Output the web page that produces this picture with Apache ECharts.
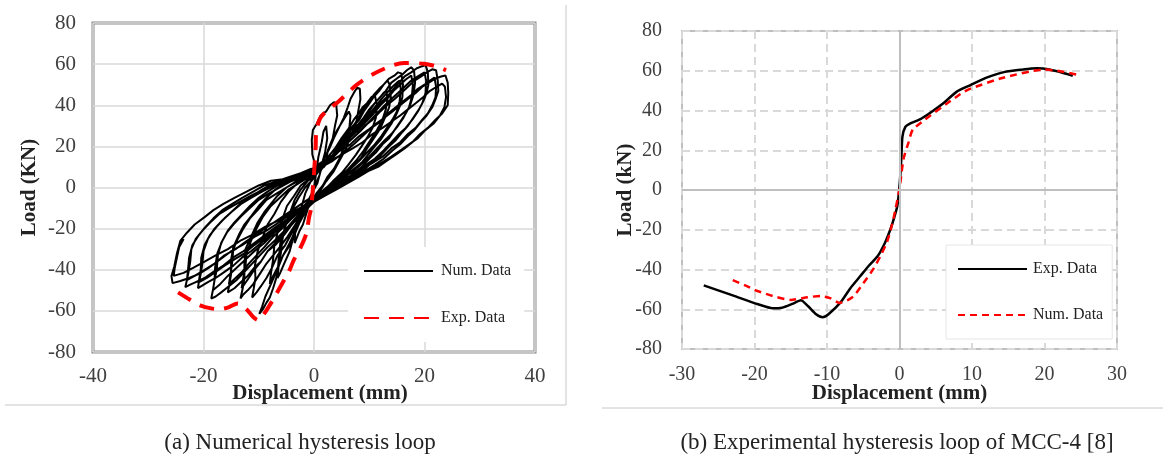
<!DOCTYPE html>
<html><head><meta charset="utf-8">
<script src="https://cdn.jsdelivr.net/npm/echarts@6/dist/echarts.min.js"></script>
<style>
html,body{margin:0;padding:0;background:#fff;width:1163px;height:461px;overflow:hidden;}
#a{position:absolute;left:0;top:0;width:580px;height:461px;}
#b{position:absolute;left:580px;top:0;width:583px;height:461px;}
</style></head><body>
<div id="a"></div><div id="b"></div>
<script>
// ---------- Panel (a): numerical hysteresis loops (black), one array per cycle ----------
const cycle1 = [[0,0],[0.5,9],[0.8,15],[1.4,22],[1.7,27],[2.2,30],[2.4,24],[2.0,17],[1.5,12],[1.0,6],[0.2,1],[-0.6,-6],[-1.2,-11],[-2.0,-18],[-2.6,-21],[-3.5,-27],[-3.4,-21],[-3.0,-14],[-2.2,-9],[-1.6,-3],[-0.6,3],[0.2,8]];
const cycle2 = [[0.1,12],[-0.3,16],[-0.4,23],[-0.2,28],[0.5,31],[1.2,35],[2.2,37],[2.9,40],[3.6,41.5],[4.0,41],[4.2,35],[3.8,30],[3.4,24],[2.5,18],[2.2,13],[1.2,8],[0.6,2],[-0.6,-4],[-1.8,-10],[-2.6,-17],[-3.7,-24],[-4.4,-31],[-5.4,-37],[-6.2,-42],[-6.6,-44],[-6.4,-38],[-6.0,-32],[-5.7,-25],[-5.1,-18],[-4.3,-12],[-3.5,-6],[-2.4,-1],[-1.2,3],[0.1,6]];
const cycle3 = [[1.0,9],[1.8,14],[2.6,18],[3.4,24],[4.0,27],[4.9,31],[5.6,34],[6.3,37],[6.6,35],[6.4,29],[6.0,24],[5.2,18],[4.6,14],[3.6,9],[2.4,5],[1.6,1],[0.4,-3],[-0.8,-8],[-1.6,-12],[-2.8,-18],[-3.6,-22],[-4.6,-29],[-5.6,-33],[-6.6,-39],[-7.4,-43],[-8.0,-47],[-7.8,-42],[-7.4,-35],[-7.2,-29],[-6.6,-22],[-5.8,-16],[-4.9,-9],[-3.6,-4],[-2.4,1],[-1.0,4],[0.3,7]];
const cycle4 = [[1.2,11],[2.0,15],[2.8,19],[3.6,24],[4.5,29],[5.4,34],[6.1,39],[6.6,43],[7.2,46],[7.8,48.5],[8.3,48],[8.4,43],[8.0,37],[7.6,31],[6.6,25],[5.8,19],[4.6,13],[3.6,8],[2.2,3],[1.0,-2],[-0.4,-6],[-1.8,-12],[-3.0,-19],[-4.4,-27],[-5.6,-33],[-6.8,-41],[-7.8,-47],[-8.8,-53],[-9.4,-58],[-9.9,-61.5],[-9.2,-59],[-8.6,-56],[-8.0,-53.5],[-7.4,-49],[-6.6,-42],[-6.4,-35],[-6.1,-27],[-5.2,-19],[-4.0,-11],[-2.8,-5],[-1.6,0],[-0.2,4]];
const cycle5 = [[1.4,10],[2.6,15],[3.8,19],[5.0,24],[6.1,28],[7.2,33],[8.1,36],[8.8,39],[9.6,41],[10.4,44],[11.0,45],[11.4,40],[11.2,34],[10.6,29],[9.8,25],[8.6,20],[7.6,16],[6.2,11],[5.0,7],[3.4,3],[2.0,-1],[0.4,-5],[-1.2,-10],[-2.6,-16],[-4.0,-22],[-5.2,-28],[-6.6,-33],[-7.6,-39],[-8.6,-44],[-9.6,-48],[-10.4,-51],[-11.2,-53.5],[-10.9,-49],[-10.6,-44],[-10.7,-38],[-10.2,-31],[-9.4,-25],[-8.4,-18],[-7.2,-13],[-6.0,-7],[-4.6,-2],[-3.0,2],[-1.4,5],[0.2,7]];
const cycle6 = [[1.8,10],[3.2,15],[4.4,20],[5.6,25],[6.4,28],[7.4,31],[8.3,35],[9.2,39],[10.0,41],[10.8,45],[11.8,48],[12.6,50],[13.3,52],[13.7,50],[13.9,44],[13.6,39],[13.0,35],[12.2,30],[11.6,27],[10.6,23],[9.6,19],[8.4,14],[7.0,10],[5.6,6],[4.0,3],[2.4,-1],[0.8,-5],[-0.8,-9],[-2.4,-14],[-3.6,-19],[-4.8,-24],[-6.2,-29],[-7.4,-33],[-8.6,-37],[-9.8,-42],[-11.0,-47],[-12.0,-50],[-12.8,-52],[-13.3,-54],[-12.9,-49],[-12.6,-44],[-12.6,-37],[-12.4,-30],[-11.4,-24],[-10.2,-17],[-9.0,-12],[-7.8,-8],[-6.6,-4],[-5.0,0],[-3.2,3],[-1.4,6],[0.4,8]];
const cycle6b = [[0.6,8],[2.2,12],[3.8,16],[5.2,21],[6.6,26],[7.8,30],[9.0,34],[10.0,38],[11.0,41],[12.0,44],[12.6,46],[13.1,47],[13.3,43],[13.0,38],[12.4,33],[11.4,28],[10.2,23],[9.0,18],[7.6,13],[6.2,9],[4.6,5],[3.0,1],[1.2,-3],[-0.6,-7],[-2.4,-12],[-4.0,-17],[-5.6,-22],[-7.0,-27],[-8.4,-31],[-9.6,-36],[-10.8,-40],[-11.8,-44],[-12.6,-47],[-13.1,-49],[-12.8,-44],[-12.4,-38],[-12.2,-32],[-11.4,-26],[-10.4,-20],[-9.2,-14],[-7.8,-9],[-6.2,-5],[-4.6,-1],[-2.8,2],[-1.0,5]];
const cycle7 = [[2.0,11],[3.6,16],[5.0,21],[6.2,26],[7.2,30],[8.2,33],[9.0,37],[9.8,40],[10.8,44],[11.8,47],[12.6,50],[13.6,53],[14.6,54.5],[15.2,56],[15.8,55.5],[16.1,50],[16.0,44],[15.6,40],[14.8,35],[14.0,31],[13.0,27],[12.0,23],[11.0,20],[9.8,16],[8.6,12],[7.2,9],[5.6,5],[4.0,2],[2.6,-2],[0.8,-5],[-0.8,-8],[-2.4,-13],[-4.0,-18],[-5.4,-23],[-7.0,-28],[-8.4,-31],[-9.6,-36],[-10.8,-39],[-12.0,-43],[-13.2,-46],[-14.4,-49],[-15.6,-51],[-15.3,-47],[-15.0,-42],[-15.0,-35],[-14.6,-29],[-13.6,-23],[-12.6,-18],[-11.4,-14],[-10.0,-9],[-8.6,-5],[-7.0,-1],[-5.4,2],[-3.6,4],[-1.6,6],[0.4,9]];
const cycle7b = [[0.8,9],[2.6,13],[4.4,18],[5.8,22],[7.2,27],[8.6,31],[9.8,35],[11.0,39],[12.2,43],[13.2,46],[14.2,49],[15.0,51],[15.5,52],[15.7,48],[15.5,42],[15.0,37],[14.2,33],[13.2,29],[12.2,25],[11.0,21],[9.6,17],[8.2,13],[6.6,9],[5.0,6],[3.2,2],[1.4,-2],[-0.4,-5],[-2.2,-10],[-4.0,-15],[-5.8,-20],[-7.4,-24],[-9.0,-29],[-10.4,-33],[-11.8,-37],[-13.0,-41],[-14.2,-44],[-15.4,-47],[-15.1,-42],[-14.8,-36],[-14.6,-30],[-13.8,-25],[-12.8,-20],[-11.6,-15],[-10.2,-11],[-8.6,-6],[-6.8,-3],[-5.0,0],[-3.0,3],[-1.0,6]];
const cycle8 = [[2.2,12],[4.0,17],[5.6,22],[7.0,27],[8.1,31],[9.2,34],[10.2,38],[11.0,41],[12.0,44],[13.0,47],[14.0,51],[15.0,53],[16.0,55],[16.8,57],[17.6,58.5],[18.1,57],[18.3,51],[18.0,45],[17.4,40],[16.6,36],[15.6,32],[14.6,28],[13.6,24],[12.4,21],[11.2,17],[10.0,14],[8.6,10],[7.2,7],[5.4,3],[3.6,0],[1.8,-3],[0.0,-7],[-1.6,-10],[-3.4,-15],[-5.0,-20],[-6.8,-25],[-8.4,-29],[-9.8,-33],[-11.2,-37],[-12.6,-41],[-14.0,-45],[-15.4,-48],[-16.8,-51],[-17.8,-53],[-18.6,-54],[-18.3,-50],[-18.0,-45],[-17.9,-39],[-17.5,-32],[-16.6,-26],[-15.6,-21],[-14.4,-17],[-13.0,-13],[-11.6,-9],[-10.0,-5],[-8.4,-2],[-6.6,1],[-4.8,3],[-2.8,5],[-0.8,7]];
const cycle8b = [[0.8,10],[2.8,14],[4.8,19],[6.4,24],[8.0,28],[9.4,32],[10.8,36],[12.0,40],[13.2,43],[14.4,47],[15.6,50],[16.6,52.5],[17.6,54.5],[17.9,50],[17.7,44],[17.2,39],[16.2,34],[15.2,30],[14.0,26],[12.8,23],[11.4,19],[10.0,15],[8.4,11],[6.6,7],[4.8,4],[2.8,0],[0.8,-4],[-1.2,-8],[-3.2,-13],[-5.2,-18],[-7.2,-22],[-9.0,-27],[-10.8,-31],[-12.4,-35],[-14.0,-39],[-15.6,-43],[-17.0,-47],[-18.3,-50],[-18.0,-45],[-17.6,-40],[-17.4,-33],[-16.8,-27],[-15.8,-22],[-14.6,-18],[-13.2,-14],[-11.6,-10],[-10.0,-6],[-8.2,-3],[-6.2,0],[-4.2,3],[-2.0,5],[0.0,8]];
const cycle9 = [[1.2,10],[3.0,14],[4.6,19],[6.0,23],[7.4,27],[8.6,31],[9.8,34],[11.0,38],[12.0,41],[13.2,44],[14.4,48],[15.4,51],[16.4,54],[17.6,56],[18.6,58],[19.6,59],[20.2,59.5],[20.6,56],[20.7,50],[20.4,46],[19.8,42],[19.0,38],[18.0,34],[17.0,30],[16.0,27],[14.8,23],[13.6,20],[12.2,16],[10.8,13],[9.2,9],[7.6,6],[5.8,3],[3.8,0],[1.8,-3],[-0.2,-6],[-2.0,-10],[-4.0,-14],[-6.0,-19],[-7.8,-23],[-9.6,-27],[-11.4,-31],[-13.0,-34],[-14.6,-38],[-16.2,-41],[-17.8,-44],[-19.2,-46],[-20.4,-48],[-21.0,-49],[-20.8,-45],[-20.5,-40],[-20.4,-34],[-19.8,-28],[-18.8,-23],[-17.6,-19],[-16.2,-15],[-14.6,-11],[-13.0,-7],[-11.2,-4],[-9.4,-1],[-7.4,2],[-5.2,4],[-3.0,6],[-1.0,8]];
const cycle9b = [[1.6,11],[3.6,15],[5.4,20],[7.0,24],[8.6,28],[10.0,32],[11.4,36],[12.8,40],[14.0,43],[15.2,46],[16.4,49],[17.6,52],[18.8,54],[20.0,56],[20.3,52],[20.2,46],[19.6,41],[18.8,37],[17.8,33],[16.6,29],[15.4,26],[14.0,22],[12.6,18],[11.0,14],[9.4,11],[7.6,7],[5.6,4],[3.6,1],[1.6,-3],[-0.4,-7],[-2.4,-11],[-4.6,-16],[-6.8,-20],[-8.8,-24],[-10.8,-28],[-12.6,-32],[-14.4,-35],[-16.2,-38],[-17.8,-41],[-19.4,-44],[-20.8,-46],[-20.5,-42],[-20.2,-37],[-20.0,-31],[-19.2,-25],[-18.0,-20],[-16.6,-16],[-15.0,-12],[-13.2,-8],[-11.4,-5],[-9.4,-2],[-7.2,1],[-5.0,3],[-2.8,5],[-0.8,7]];
const cycle10 = [[1.0,11],[2.8,14],[4.6,18],[6.2,22],[7.8,26],[9.2,30],[10.6,33],[12.0,37],[13.2,40],[14.6,43],[15.8,46],[17.0,49],[18.2,52],[19.4,54],[20.4,56],[21.4,57.5],[22.1,57],[22.4,52],[22.5,47],[22.0,43],[21.4,39],[20.4,35],[19.4,32],[18.2,28],[17.0,25],[15.6,21],[14.2,18],[12.6,14],[11.0,11],[9.2,8],[7.4,5],[5.4,2],[3.4,-1],[1.4,-4],[-0.6,-7],[-2.6,-11],[-4.6,-15],[-6.8,-19],[-8.8,-23],[-10.8,-27],[-12.8,-31],[-14.6,-34],[-16.4,-38],[-18.2,-41],[-19.8,-44],[-21.4,-46],[-22.6,-47.5],[-23.3,-48.5],[-23.0,-45],[-22.8,-40],[-22.6,-34],[-22.0,-28],[-20.8,-23],[-19.6,-19],[-18.2,-15],[-16.6,-11],[-14.8,-8],[-13.0,-5],[-11.0,-2],[-9.0,1],[-6.8,3],[-4.6,5],[-2.4,7],[-0.6,9]];
const cycle10b = [[1.4,10],[3.4,13],[5.4,17],[7.2,21],[8.8,25],[10.4,29],[12.0,32],[13.4,36],[14.8,39],[16.2,42],[17.6,45],[18.8,48],[20.0,50],[21.0,52],[21.8,53.5],[22.1,49],[22.0,44],[21.4,40],[20.6,36],[19.6,33],[18.4,29],[17.0,26],[15.6,22],[14.0,19],[12.4,15],[10.6,12],[8.8,9],[6.8,6],[4.8,3],[2.8,0],[0.8,-3],[-1.2,-6],[-3.4,-10],[-5.6,-14],[-7.8,-18],[-10.0,-22],[-12.2,-26],[-14.2,-30],[-16.2,-33],[-18.0,-37],[-19.8,-40],[-21.6,-43],[-23.0,-45],[-22.7,-41],[-22.4,-36],[-22.2,-30],[-21.4,-25],[-20.2,-21],[-18.8,-17],[-17.2,-13],[-15.4,-10],[-13.4,-7],[-11.4,-4],[-9.2,-1],[-7.0,2],[-4.8,4],[-2.6,6],[-0.6,8]];
const cycle11 = [[1.2,12],[3.0,15],[4.8,18],[6.6,21],[8.2,25],[9.8,28],[11.2,31],[12.8,34],[14.2,37],[15.6,40],[17.0,43],[18.4,46],[19.6,49],[20.8,51],[22.0,53],[23.0,54],[23.8,54.5],[24.2,51],[24.3,46],[24.2,40],[23.2,36],[22.0,33],[20.6,29],[19.2,26],[17.8,22],[16.4,19],[14.8,16],[13.2,13],[11.6,10],[9.8,8],[8.0,5],[6.0,2],[4.0,-1],[2.0,-4],[0.0,-7],[-2.0,-10],[-4.2,-13],[-6.4,-17],[-8.6,-21],[-10.8,-24],[-13.0,-28],[-15.0,-31],[-17.0,-35],[-19.0,-39],[-20.8,-42],[-22.6,-44],[-24.2,-45.5],[-25.6,-46.5],[-25.8,-43],[-25.3,-38.5],[-24.8,-32],[-24.2,-26],[-23.0,-22],[-21.6,-18],[-19.8,-14.4],[-18.2,-11],[-16.4,-8],[-14.4,-5],[-12.2,-2],[-10.0,1],[-7.8,3.3],[-5.6,4],[-3.4,5],[-1.5,6]];
const cycle11b = [[1.0,10],[3.0,13],[5.0,16],[7.0,19],[8.8,22],[10.6,26],[12.4,29],[14.0,32],[15.6,35],[17.0,38],[18.4,41],[19.8,44],[21.0,47],[22.2,49],[23.2,50.5],[23.7,49],[23.9,44],[23.6,39],[22.8,35],[21.6,31],[20.2,28],[18.8,24],[17.2,21],[15.6,18],[14.0,15],[12.2,12],[10.4,9],[8.4,6],[6.4,4],[4.4,1],[2.4,-2],[0.4,-5],[-1.8,-9],[-4.0,-12],[-6.4,-16],[-8.8,-19],[-11.2,-23],[-13.4,-26],[-15.6,-30],[-17.8,-33],[-19.8,-36],[-21.8,-39],[-23.6,-41.5],[-25.4,-43],[-25.2,-39],[-24.8,-34],[-24.4,-29],[-23.6,-25]];
// Panel (a): experimental envelope (red dashed)
const expEnvelopeA = [[-24.6,-51],[-22.5,-54.5],[-20.5,-57.4],[-18.6,-58.8],[-17.2,-59.2],[-15.5,-58.3],[-13.8,-56.4],[-12.3,-59],[-11,-63],[-10.1,-64.5],[-9.2,-62],[-8.2,-58],[-7.2,-53.5],[-5.4,-45],[-4.7,-41.8],[-3.6,-35],[-2.4,-29],[-1.4,-22.4],[-0.9,-14.6],[-0.5,-9.7],[0,6.8],[0.3,20],[0.4,27],[1.0,33],[1.8,36],[4.5,42],[8,50.5],[12.1,57],[16.3,60.5],[19.9,60.2],[22,59],[23.9,57]];

// ---------- Panel (b): experimental loop of MCC-4 ----------
const expCurveB = [[-27,-48],[-23,-53],[-19.5,-57.5],[-17.5,-59.5],[-16.2,-59.2],[-14.8,-57.3],[-13.6,-55.5],[-12.6,-58.5],[-11.5,-62.5],[-10.6,-64],[-9.8,-62.5],[-8.1,-56.4],[-6.8,-49.5],[-5.4,-43.3],[-4.2,-38],[-3.0,-33.2],[-2.0,-26.5],[-1.24,-19.6],[-0.7,-13.5],[-0.3,-8],[0,2],[0.25,15.6],[0.4,26.7],[0.8,31.7],[1.5,33.5],[2.9,35.7],[4.3,39],[6,43.5],[7.9,49.5],[9.8,52.8],[12,56.5],[14.4,59.3],[17,60.6],[19.0,61.2],[20.8,60.5],[22.5,59],[23.9,57.5]];
const numCurveB = [[-23,-45.3],[-21.3,-48],[-19.6,-50.8],[-17.5,-53.3],[-15.0,-55.3],[-12.7,-54],[-10.9,-53.3],[-9.5,-54.5],[-8.3,-56.8],[-7.2,-55.5],[-6.3,-53.4],[-5,-47],[-3.6,-39.7],[-2.6,-33],[-1.7,-26],[-1,-17],[-0.55,-9.6],[0,0.5],[0.55,15.6],[1.25,24],[1.9,30.7],[8.4,48.3],[9.8,51],[14.3,56.5],[19.9,60.6],[21.8,60],[24.6,57.9]];

// axis ranges
const yTicks = {min:-80, max:80, step:20};
const xTicksA = {min:-40, max:40, step:20};
const xTicksB = {min:-30, max:30, step:10};

const numLoopsA = [].concat(cycle1, cycle2, cycle3, cycle4, cycle5, cycle6, cycle6b, cycle7, cycle7b, cycle8, cycle8b, cycle9, cycle9b, cycle10, cycle10b, cycle11, cycle11b);

const serif = '"Liberation Serif", "Times New Roman", "DejaVu Serif", serif';

// ---------- chart A ----------
const chartA = echarts.init(document.getElementById('a'), null, {renderer:'canvas'});
chartA.setOption({
  animation:false,
  grid:{left:93, top:23, width:442, height:329, show:true, borderColor:'#8c8c8c', borderWidth:3},
  xAxis:{type:'value', min:xTicksA.min, max:xTicksA.max, interval:xTicksA.step,
    axisLine:{show:false}, axisTick:{show:false},
    splitLine:{show:true, lineStyle:{color:'#d9d9d9', width:1.5}},
    axisLabel:{fontFamily:serif, fontSize:21, color:'#404040', margin:14},
    name:'Displacement (mm)', nameLocation:'middle', nameGap:31, nameMoveOverlap:false,
    nameTextStyle:{fontFamily:serif, fontSize:21, fontWeight:'bold', color:'#222', padding:[0,0,0,12]}},
  yAxis:{type:'value', min:yTicks.min, max:yTicks.max, interval:yTicks.step,
    axisLine:{show:false}, axisTick:{show:false},
    splitLine:{show:true, lineStyle:{color:'#d9d9d9', width:1.5}},
    axisLabel:{fontFamily:serif, fontSize:21, color:'#404040', margin:17},
    name:'Load (KN)', nameLocation:'middle', nameGap:53, nameMoveOverlap:false,
    nameTextStyle:{fontFamily:serif, fontSize:21, fontWeight:'bold', color:'#222'}},
  legend:{orient:'vertical', left:348, top:247, padding:[16,13,16,15], itemWidth:69, itemHeight:14, itemGap:31,
    backgroundColor:'#fff', selectedMode:false, data:['Num. Data','Exp. Data'],
    itemStyle:{opacity:0},
    textStyle:{fontFamily:serif, fontSize:16, color:'#222', padding:[0,0,0,3]}},
  series:[
    {name:'Num. Data', type:'line', data:numLoopsA, symbol:'none', showSymbol:false, smooth:false, z:2,
      lineStyle:{color:'#000', width:2}, itemStyle:{color:'#000'}},
    {name:'Exp. Data', type:'line', data:expEnvelopeA, symbol:'none', showSymbol:false, smooth:0.3, z:3,
      lineStyle:{color:'#ff0000', width:4, type:[15,10]}, itemStyle:{color:'#ff0000'}}
  ],
  graphic:[
    {type:'line', shape:{x1:566, y1:5, x2:566, y2:405}, style:{stroke:'#c8c8c8', lineWidth:1}, silent:true},
    {type:'line', shape:{x1:5, y1:405, x2:566, y2:405}, style:{stroke:'#c8c8c8', lineWidth:1}, silent:true},
    {type:'text', x:300, y:443, style:{text:'(a) Numerical hysteresis loop', font:'23px '+serif, fill:'#222', textAlign:'center', textVerticalAlign:'middle'}, silent:true}
  ]
});

// ---------- chart B ----------
const chartB = echarts.init(document.getElementById('b'), null, {renderer:'canvas'});
chartB.setOption({
  animation:false,
  grid:{left:102, top:31, width:435, height:318, show:true, borderColor:'#bfbfbf', borderWidth:2},
  xAxis:{type:'value', min:xTicksB.min, max:xTicksB.max, interval:xTicksB.step,
    axisLine:{show:false}, axisTick:{show:false},
    splitLine:{show:true, lineStyle:{color:'#d9d9d9', width:2, type:[8,5]}},
    axisLabel:{fontFamily:serif, fontSize:20, color:'#404040', margin:16},
    name:'Displacement (mm)', nameLocation:'middle', nameGap:34, nameMoveOverlap:false,
    nameTextStyle:{fontFamily:serif, fontSize:21, fontWeight:'bold', color:'#222'}},
  yAxis:{type:'value', min:yTicks.min, max:yTicks.max, interval:yTicks.step,
    axisLine:{show:false}, axisTick:{show:false},
    splitLine:{show:true, lineStyle:{color:'#d9d9d9', width:2, type:[8,5]}},
    axisLabel:{fontFamily:serif, fontSize:20, color:'#404040', margin:20},
    name:'Load (kN)', nameLocation:'middle', nameGap:46, nameMoveOverlap:false,
    nameTextStyle:{fontFamily:serif, fontSize:21, fontWeight:'bold', color:'#222'}},
  legend:{orient:'vertical', left:366, top:245, padding:[16,9,16,11], itemWidth:69, itemHeight:14, itemGap:30,
    backgroundColor:'#fff', borderColor:'#e6e6e6', borderWidth:1, selectedMode:false, data:['Exp. Data','Num. Data'],
    itemStyle:{opacity:0},
    textStyle:{fontFamily:serif, fontSize:16, color:'#222', padding:[0,0,0,1]}},
  series:[
    {type:'line', data:[], silent:true, z:1, symbol:'none',
      markLine:{silent:true, symbol:'none', animation:false, label:{show:false},
        lineStyle:{color:'#bfbfbf', width:2, type:'solid'}, data:[{xAxis:0},{yAxis:0}]}},
    {name:'Exp. Data', type:'line', data:expCurveB, symbol:'none', showSymbol:false, smooth:0.2, z:2,
      lineStyle:{color:'#000', width:2.5}, itemStyle:{color:'#000'}},
    {name:'Num. Data', type:'line', data:numCurveB, symbol:'none', showSymbol:false, smooth:0.2, z:3,
      lineStyle:{color:'#ff0000', width:2.5, type:[7,5]}, itemStyle:{color:'#ff0000'}}
  ],
  graphic:[
    {type:'line', shape:{x1:22, y1:408, x2:583, y2:408}, style:{stroke:'#c8c8c8', lineWidth:1}, silent:true},
    {type:'text', x:317, y:443, style:{text:'(b) Experimental hysteresis loop of MCC-4 [8]', font:'23px '+serif, fill:'#222', textAlign:'center', textVerticalAlign:'middle'}, silent:true}
  ]
});
</script>
</body></html>
